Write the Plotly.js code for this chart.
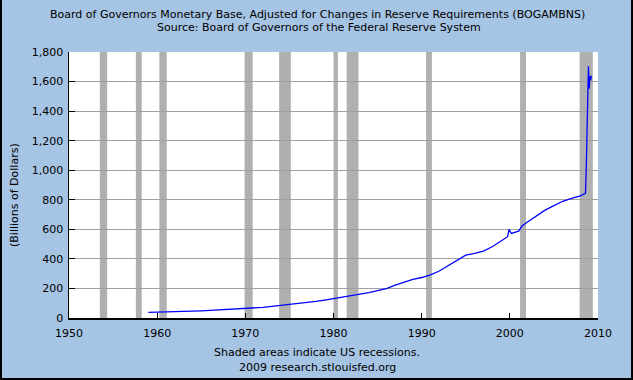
<!DOCTYPE html>
<html>
<head>
<meta charset="utf-8">
<script src="https://cdn.plot.ly/plotly-3.0.1.min.js"></script>
<style>
  html, body { margin: 0; padding: 0; background: #a6c4e4; }
  #wrap { position: relative; width: 633px; height: 380px; }
  #chart { width: 633px; height: 380px; }
  #frame { position: absolute; left: 0; top: 0; width: 633px; height: 380px; box-sizing: border-box;
           border-left: 2px solid #000; border-right: 2px solid #000; border-bottom: 2px solid #000; pointer-events: none; }
</style>
</head>
<body>
<div id="wrap"><div id="chart"></div><div id="frame"></div></div>
<script>
// Monetary base (billions of dollars)
var dates = ['1959-01','1960-01','1961-01','1962-01','1963-01','1964-01','1965-01','1966-01','1967-01','1968-01',
             '1969-01','1970-01','1971-01','1972-01','1973-01','1974-01','1975-01','1976-01','1977-01','1978-01',
             '1979-01','1980-01','1981-01','1982-01','1983-01','1984-01','1985-01','1986-01','1987-01','1988-01',
             '1989-01','1990-01','1991-01','1992-01','1993-01','1994-01','1995-01','1996-01','1997-01','1998-01',
             '1999-01','1999-10','1999-12','2000-01','2000-03','2001-01','2001-06','2002-01','2003-01','2004-01',
             '2005-01','2006-01','2007-01','2008-01','2008-07','2008-08','2008-09','2008-10','2008-11','2008-12',
             '2009-01','2009-02','2009-03','2009-04'];
var base  = [38, 39, 40, 41.5, 43.5, 46, 48.5, 51, 54, 57,
             60, 64, 67, 72, 79, 85, 89, 95, 103, 112,
             121, 131, 139, 147, 158, 172, 186, 199, 222, 240,
             262, 274, 292, 318, 352, 390, 425, 437, 453, 482,
             522, 550, 600, 590, 572, 588, 625, 650, 690, 730,
             760, 790, 810, 826, 842, 845, 1010, 1275, 1608, 1703,
             1552, 1635, 1608, 1640];

// US recessions (shaded areas)
var recStart = ['1953-07','1957-08','1960-04','1969-12','1973-11','1980-01','1981-07','1990-07','2001-03','2007-12'];
var recEnd   = ['1954-05','1958-04','1961-02','1970-11','1975-03','1980-07','1982-11','1991-03','2001-11','2009-06'];

var yTicks = [0, 200, 400, 600, 800, 1000, 1200, 1400, 1600, 1800];
var xTickVals = ['1950-01-01','1960-01-01','1970-01-01','1980-01-01','1990-01-01','2000-01-01','2010-01-01'];
var xTickText = ['1950','1960','1970','1980','1990','2000','2010'];

var shapes = recStart.map(function (s, i) {
  return { type: 'rect', xref: 'x', yref: 'paper', x0: s, x1: recEnd[i], y0: 0, y1: 1,
           fillcolor: '#b0b0b0', line: { width: 0 }, layer: 'below' };
});

var font = { family: 'DejaVu Sans, Verdana, sans-serif', size: 11, color: '#000' };

var trace = { x: dates, y: base, type: 'scatter', mode: 'lines',
              line: { color: '#0000ff', width: 1.3 }, hoverinfo: 'skip' };

var layout = {
  width: 633, height: 380,
  margin: { l: 69, r: 35, t: 52, b: 62 },
  paper_bgcolor: '#a6c4e4', plot_bgcolor: '#ffffff',
  font: font,
  showlegend: false,
  xaxis: {
    type: 'date', range: ['1950-01-01', '2010-01-01'],
    tickmode: 'array', tickvals: xTickVals, ticktext: xTickText,
    ticks: 'inside', ticklen: 5, tickcolor: '#000', tickwidth: 1,
    ticklabelstandoff: 4,
    showgrid: false, showline: true, linecolor: '#000', linewidth: 1.5,
    zeroline: false, tickfont: font
  },
  yaxis: {
    range: [0, 1800], tickmode: 'array', tickvals: yTicks,
    ticktext: yTicks.map(function (v) { return v.toLocaleString('en-US'); }),
    ticks: 'inside', ticklen: 6, tickcolor: '#000', tickwidth: 1,
    ticklabelstandoff: 2,
    showgrid: true, gridcolor: '#a0a0a0', gridwidth: 1,
    showline: true, linecolor: '#000', linewidth: 1.5,
    zeroline: false, tickfont: font
  },
  shapes: shapes,
  annotations: [
    { text: 'Board of Governors Monetary Base, Adjusted for Changes in Reserve Requirements (BOGAMBNS)',
      xref: 'paper', yref: 'paper', x: (317 - 69) / 529, y: (318 - 14) / 266, xanchor: 'center', yanchor: 'middle',
      showarrow: false, font: font },
    { text: 'Source: Board of Governors of the Federal Reserve System',
      xref: 'paper', yref: 'paper', x: (319 - 69) / 529, y: (318 - 27) / 266, xanchor: 'center', yanchor: 'middle',
      showarrow: false, font: font },
    { text: '(Billions of Dollars)', textangle: -90,
      xref: 'paper', yref: 'paper', x: (14 - 69) / 529, y: (318 - 195) / 266, xanchor: 'center', yanchor: 'middle',
      showarrow: false, font: font },
    { text: 'Shaded areas indicate US recessions.',
      xref: 'paper', yref: 'paper', x: (317 - 69) / 529, y: (318 - 352) / 266, xanchor: 'center', yanchor: 'middle',
      showarrow: false, font: font },
    { text: '2009 research.stlouisfed.org',
      xref: 'paper', yref: 'paper', x: (317 - 69) / 529, y: (318 - 367) / 266, xanchor: 'center', yanchor: 'middle',
      showarrow: false, font: font }
  ]
};

Plotly.newPlot('chart', [trace], layout, { displayModeBar: false, staticPlot: true });
</script>
</body>
</html>
